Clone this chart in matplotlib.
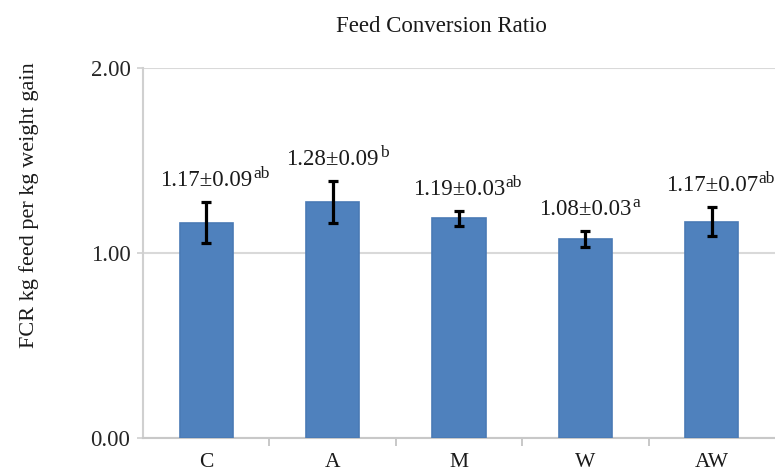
import matplotlib
matplotlib.use('Agg')
import matplotlib.pyplot as plt

# data
groups = ['C', 'A', 'M', 'W', 'AW']
fcr = [1.165, 1.277, 1.187, 1.076, 1.17]
err = [0.113, 0.113, 0.041, 0.043, 0.079]      # drawn error bar half-lengths
mean_txt = ['1.17±0.09', '1.28±0.09', '1.19±0.03', '1.08±0.03', '1.17±0.07']
letters = ['ab', 'b', 'ab', 'a', 'ab']

plt.rcParams['font.family'] = ['Liberation Serif', 'DejaVu Serif']

fig = plt.figure(figsize=(7.75, 4.73), dpi=100)
ax = fig.add_axes([0.1845, 0.074, 0.8155, 0.782])

x = list(range(len(groups)))
ax.bar(x, fcr, width=0.42, color='#4F81BD', edgecolor='#4A7AB5', linewidth=1.2, zorder=3)
ax.errorbar(x, fcr, yerr=err, fmt='none', ecolor='black', elinewidth=2.3,
            capsize=3.8, capthick=2.3, zorder=4)

# value labels with superscript letters
for i in x:
    t = ax.annotate(mean_txt[i], xy=(i, fcr[i] + err[i]), xytext=(0, 11.5),
                    textcoords='offset points', ha='center', va='baseline',
                    fontsize=16.5, color='#1a1a1a', zorder=5)
    ax.annotate(letters[i], xy=(1.0, 0.42), xycoords=t, xytext=(0.5, 0),
                textcoords='offset points', ha='left', va='bottom',
                fontsize=12.5, color='#1a1a1a', zorder=5)

ax.set_xlim(-0.5, len(groups) - 0.5)
ax.set_ylim(0, 2.0)
ax.set_yticks([0, 1, 2])
ax.set_yticklabels(['0.00', '1.00', '2.00'], fontsize=16.5, color='#262626')

# ticks at the category borders, labels at the centres
ax.set_xticks([i + 0.5 for i in x[:-1]])
ax.set_xticklabels([])
ax.set_xticks(x, minor=True)
ax.set_xticklabels(groups, minor=True, fontsize=15.5, color='#1a1a1a')
ax.tick_params(axis='x', which='major', length=6, width=1.2, color='#BFBFBF')
ax.tick_params(axis='x', which='minor', length=0, pad=11)
ax.tick_params(axis='y', length=4, width=1.2, color='#D0D0D0', pad=5)

ax.yaxis.grid(True, color='#D9D9D9', linewidth=1.5, zorder=0)
ax.set_axisbelow(True)
for s in ['top', 'right']:
    ax.spines[s].set_visible(False)
ax.spines['left'].set_color('#D0D0D0')
ax.spines['left'].set_linewidth(1.5)
ax.spines['bottom'].set_color('#C8C8C8')
ax.spines['bottom'].set_linewidth(1.5)

fig.text(0.570, 0.943, 'Feed Conversion Ratio', ha='center', va='center',
         fontsize=16.5, color='#1a1a1a')
fig.text(0.038, 0.567, 'FCR kg feed per kg weight gain', rotation=90,
         ha='center', va='center', fontsize=16, color='#1a1a1a')

fig.savefig('out.png', dpi=100)
